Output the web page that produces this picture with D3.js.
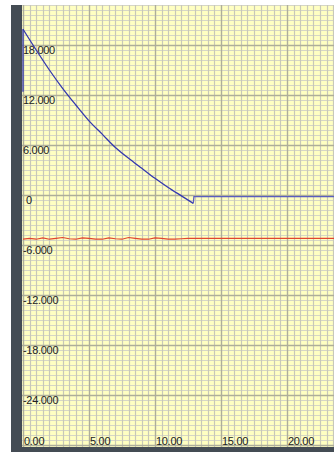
<!DOCTYPE html>
<html>

<head>
    <title>Trend</title>
    <script src="https://d3js.org/d3.v7.min.js"></script>
    <style>
        body { margin: 0; background: #fff; }
        text { font-family: "Liberation Sans", Arial, sans-serif; font-size: 11px; fill: #222; letter-spacing: -0.3px; }
    </style>
    <script>
    // tick labels
    var yTicks = [18, 12, 6, 0, -6, -12, -18, -24];
    var yLabels = ["18.000", "12.000", "6.000", "0", "-6.000", "-12.000", "-18.000", "-24.000"];
    var xTicks = [0, 5, 10, 15, 20];
    var xLabels = ["0.00", "5.00", "10.00", "15.00", "20.00"];

    // blue series: decay part (time, value)
    var decayT = [0, 1, 2, 3, 4, 5, 6, 7, 8, 9, 10, 11, 12, 12.9];
    var decayV = [19.9, 17.4, 15.0, 12.8, 10.8, 8.9, 7.3, 5.7, 4.4, 3.2, 2.0, 0.9, -0.1, -1.0];
    // blue series: start step and hold after the jump
    var startT = [0, 0];
    var startV = [12.4, 19.9];
    var holdT = [12.9, 12.95, 23.6];
    var holdV = [-1.0, -0.2, -0.2];

    // red series (time, value)
    var redT = [0, 0.5, 1, 1.5, 2, 2.5, 3, 3.5, 4, 4.5, 5, 5.5, 6, 6.5, 7, 7.5, 8, 8.5, 9, 9.5, 10, 10.5, 11, 11.5, 12, 12.5, 13, 23.6];
    var redV = [-5.3, -5.2, -5.3, -5.15, -5.3, -5.2, -5.1, -5.25, -5.3, -5.15, -5.2, -5.3, -5.3, -5.15, -5.25, -5.3, -5.1, -5.2, -5.3, -5.3, -5.15, -5.2, -5.3, -5.3, -5.25, -5.2, -5.2, -5.2];

    function drawChart() {
        var width = 334, height = 452;
        var svg = d3.select("body").append("svg").attr("width", width).attr("height", height);

        var x = d3.scaleLinear().domain([0, 23.6]).range([23, 334.5]);
        var y = d3.scaleLinear().domain([0, -24]).range([195, 395]);

        // frame
        svg.append("rect").attr("x", 11).attr("y", 5).attr("width", width - 11).attr("height", height - 5).attr("fill", "#444c54");
        var clip = svg.append("clipPath").attr("id", "clip");
        clip.append("rect").attr("x", 22).attr("y", 5).attr("width", width - 22).attr("height", 442);
        var plot = svg.append("g").attr("clip-path", "url(#clip)");
        plot.append("rect").attr("x", 22).attr("y", 5).attr("width", width - 22).attr("height", 442).attr("fill", "#ffffc2");

        // minor grid
        var yMinor = d3.range(-31.2, 23.5, 0.6);
        var xMinor = d3.range(0, 24, 0.5);
        plot.selectAll("line.hmin").data(yMinor).enter().append("line")
            .attr("x1", 22).attr("x2", width)
            .attr("y1", function(d) { return Math.round(y(d)) + 0.5; })
            .attr("y2", function(d) { return Math.round(y(d)) + 0.5; })
            .attr("stroke", "#d6d6c6").attr("stroke-width", 1);
        plot.selectAll("line.vmin").data(xMinor).enter().append("line")
            .attr("y1", 5).attr("y2", 447)
            .attr("x1", function(d) { return Math.round(x(d)) + 0.5; })
            .attr("x2", function(d) { return Math.round(x(d)) + 0.5; })
            .attr("stroke", "#c8c8b8").attr("stroke-width", 1.2);

        // major grid
        var yMajor = d3.range(-30, 24, 6);
        plot.selectAll("line.hmaj").data(yMajor).enter().append("line")
            .attr("x1", 22).attr("x2", width)
            .attr("y1", function(d) { return Math.round(y(d)) + 0.5; })
            .attr("y2", function(d) { return Math.round(y(d)) + 0.5; })
            .attr("stroke", "#aeae9a").attr("stroke-width", 1.3);
        plot.selectAll("line.vmaj").data(d3.range(0, 25, 5)).enter().append("line")
            .attr("y1", 5).attr("y2", 447)
            .attr("x1", function(d) { return Math.round(x(d)) + 0.5; })
            .attr("x2", function(d) { return Math.round(x(d)) + 0.5; })
            .attr("stroke", "#aeae9a").attr("stroke-width", 1.3);

        // labels
        plot.selectAll("text.ylab").data(yTicks).enter().append("text")
            .attr("x", function(d) { return d === 0 ? 26 : 23; })
            .attr("y", function(d) { return y(d) + 9; })
            .text(function(d, i) { return yLabels[i]; });
        plot.selectAll("text.xlab").data(xTicks).enter().append("text")
            .attr("x", function(d) { return x(d) + 1; })
            .attr("y", 445)
            .text(function(d, i) { return xLabels[i]; });

        // series
        var line = d3.line()
            .x(function(d) { return x(d[0]); })
            .y(function(d) { return y(d[1]); });
        var smooth = d3.line().curve(d3.curveMonotoneX)
            .x(function(d) { return x(d[0]); })
            .y(function(d) { return y(d[1]); });

        plot.append("path").datum(d3.zip(redT, redV)).attr("d", line)
            .attr("fill", "none").attr("stroke", "#e2462e").attr("stroke-width", 1.1);
        plot.append("path").datum(d3.zip(startT, startV)).attr("d", line)
            .attr("fill", "none").attr("stroke", "#3438b0").attr("stroke-width", 1.3);
        plot.append("path").datum(d3.zip(decayT, decayV)).attr("d", smooth)
            .attr("fill", "none").attr("stroke", "#3438b0").attr("stroke-width", 1.3);
        plot.append("path").datum(d3.zip(holdT, holdV)).attr("d", line)
            .attr("fill", "none").attr("stroke", "#5a5ec0").attr("stroke-width", 1.3);
    }
    </script>
</head>

<body onload="drawChart()">
</body>

</html>
